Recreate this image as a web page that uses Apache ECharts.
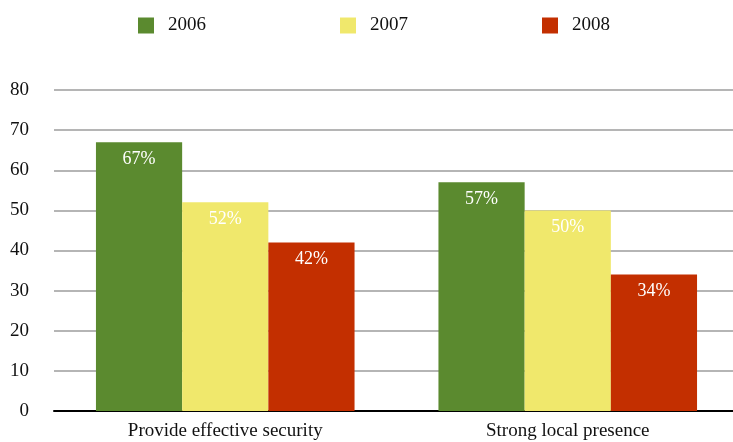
<!DOCTYPE html>
<html><head><meta charset="utf-8">
<script src="https://cdn.jsdelivr.net/npm/echarts@6/dist/echarts.min.js"></script>
<style>html,body{margin:0;padding:0;background:#fff}#c{width:733px;height:442px}</style>
</head><body><div id="c"></div>
<script>
var categories = ['Provide effective security', 'Strong local presence'];
var seriesNames = ['2006', '2007', '2008'];
var values2006 = [67, 57];
var values2007 = [52, 50];
var values2008 = [42, 34];
var colors = ['#5b8a2f', '#f0e86c', '#c32f00'];
var font = '"Liberation Serif", "DejaVu Serif", serif';
var chart = echarts.init(document.getElementById('c'));
var data = [values2006, values2007, values2008];
chart.setOption({
  animation: false,
  color: colors,
  legend: {
    left: 133, top: 11, itemWidth: 16, itemHeight: 16, itemGap: 134,
    icon: 'rect',
    textStyle: { fontFamily: font, fontSize: 19, color: '#111', padding: [0,0,2,9] },
    data: seriesNames
  },
  grid: { left: 54, width: 685, top: 90, bottom: 31, containLabel: false, outerBoundsMode: 'none' },
  xAxis: {
    type: 'category', data: categories,
    axisLine: { lineStyle: { color: '#000', width: 2 } },
    axisTick: { show: false },
    axisLabel: { fontFamily: font, fontSize: 19, color: '#111', margin: 11 }
  },
  yAxis: {
    type: 'value', min: 0, max: 80, interval: 10,
    axisLine: { show: false }, axisTick: { show: false },
    splitLine: { lineStyle: { color: '#b5b5b5', width: 2 } },
    axisLabel: { fontFamily: font, fontSize: 19, color: '#111', margin: 25 }
  },
  series: seriesNames.map(function (n, i) {
    return {
      name: n, type: 'bar', data: data[i], barGap: 0, barCategoryGap: '24.5%',
      label: {
        show: true, position: 'insideTop', distance: 8,
        formatter: '{c}%', color: '#fff', fontFamily: font, fontSize: 18
      }
    };
  })
});
</script></body></html>
